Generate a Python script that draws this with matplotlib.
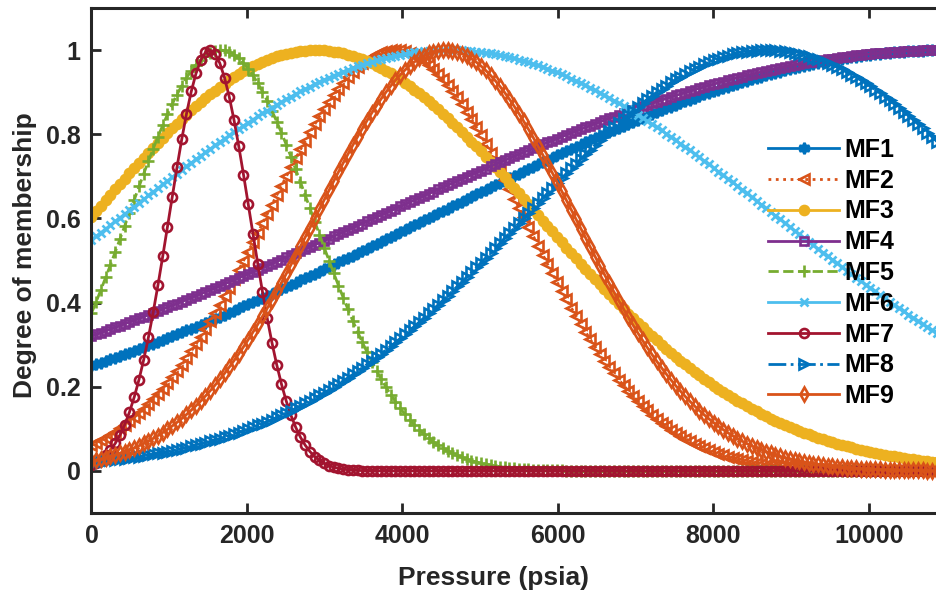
import numpy as np
import matplotlib
matplotlib.use("Agg")
import matplotlib.pyplot as plt

FIG_W, FIG_H, DPI = 937, 601, 100
FONT = ["Liberation Sans", "DejaVu Sans"]
AX_COLOR = "#262626"

# membership function names and gaussian parameters
mf_names = ["MF1", "MF2", "MF3", "MF4", "MF5", "MF6", "MF7", "MF8", "MF9"]
mf_centers = [11000, 3900, 2880, 11000, 1660, 4600, 1520, 8700, 4550]
mf_sigmas = [6600, 1650, 2870, 7290, 1185, 4200, 520, 3110, 1660]

# pressure grid (psia)
p_min, p_max, n_points = 0, 11000, 181

x_ticks = [0, 2000, 4000, 6000, 8000, 10000]
y_ticks = [0, 0.2, 0.4, 0.6, 0.8, 1]
y_tick_labels = ["0", "0.2", "0.4", "0.6", "0.8", "1"]

MATLAB_COLORS = {
    "blue": (0.0, 0.447, 0.741),
    "orange": (0.850, 0.325, 0.098),
    "yellow": (0.929, 0.694, 0.125),
    "purple": (0.494, 0.184, 0.556),
    "green": (0.466, 0.674, 0.188),
    "cyan": (0.301, 0.745, 0.933),
    "red": (0.635, 0.078, 0.184),
}

STYLES = [
    dict(color="blue", ls="-", marker=(6, 1, 0), filled=True, ms=8),
    dict(color="orange", ls=":", marker="<", filled=False, ms=7),
    dict(color="yellow", ls="-", marker="o", filled=True, ms=6.5),
    dict(color="purple", ls="-", marker="s", filled=False, ms=6),
    dict(color="green", ls="--", marker="+", filled=False, ms=9),
    dict(color="cyan", ls="-", marker="x", filled=False, ms=6),
    dict(color="red", ls="-", marker="o", filled=False, ms=6.5),
    dict(color="blue", ls="-.", marker=">", filled=False, ms=7),
    dict(color="orange", ls="-", marker="d", filled=False, ms=7),
]


def gaussmf(x, sigma, center):
    return np.exp(-((x - center) ** 2) / (2.0 * sigma ** 2))


def main():
    plt.rcParams["font.family"] = FONT
    plt.rcParams["font.weight"] = "bold"

    fig = plt.figure(figsize=(FIG_W / DPI, FIG_H / DPI), dpi=DPI)
    left, right = 91.5, 946.5
    top, bottom = 8, 513
    ax = fig.add_axes([left / FIG_W, 1 - bottom / FIG_H,
                       (right - left) / FIG_W, (bottom - top) / FIG_H])

    x = np.linspace(p_min, p_max, n_points)
    for name, c, s, st in zip(mf_names, mf_centers, mf_sigmas, STYLES):
        col = MATLAB_COLORS[st["color"]]
        ax.plot(x, gaussmf(x, s, c), linestyle=st["ls"], color=col, lw=2.0,
                marker=st["marker"], ms=st["ms"], mew=1.9,
                mfc=col if st["filled"] else "none", mec=col, label=name)

    ax.set_xlim(p_min, p_max)
    ax.set_ylim(-0.1, 1.1)
    ax.set_xticks(x_ticks)
    ax.set_xticklabels([str(t) for t in x_ticks])
    ax.set_yticks(y_ticks)
    ax.set_yticklabels(y_tick_labels)

    ax.tick_params(direction="in", length=7, width=2, colors=AX_COLOR,
                   labelsize=18, top=True, right=True, pad=8)
    for lab in ax.get_xticklabels() + ax.get_yticklabels():
        lab.set_fontweight("bold")
    for sp in ax.spines.values():
        sp.set_linewidth(2.2)
        sp.set_color(AX_COLOR)

    ax.set_xlabel("Pressure (psia)", fontsize=19, fontweight="bold", color=AX_COLOR)
    ax.set_ylabel("Degree of membership", fontsize=19, fontweight="bold", color=AX_COLOR)
    ax.xaxis.set_label_coords((494 - left) / (right - left), 1 - (578 - top) / (bottom - top))
    ax.yaxis.set_label_coords((25 - left) / (right - left), 1 - (255 - top) / (bottom - top))
    ax.xaxis.label.set_va("center")
    ax.yaxis.label.set_va("center")

    leg = ax.legend(loc="upper left", bbox_to_anchor=(768 / FIG_W, 1 - 138 / FIG_H),
                    bbox_transform=fig.transFigure, frameon=False, numpoints=1,
                    handlelength=2.85, handletextpad=0.2, labelspacing=0.27,
                    borderpad=0, borderaxespad=0, prop=dict(size=18, weight="bold"))
    for t in leg.get_texts():
        t.set_color("black")

    fig.savefig("out.png", dpi=DPI, facecolor="white")
    plt.close(fig)


if __name__ == "__main__":
    main()
